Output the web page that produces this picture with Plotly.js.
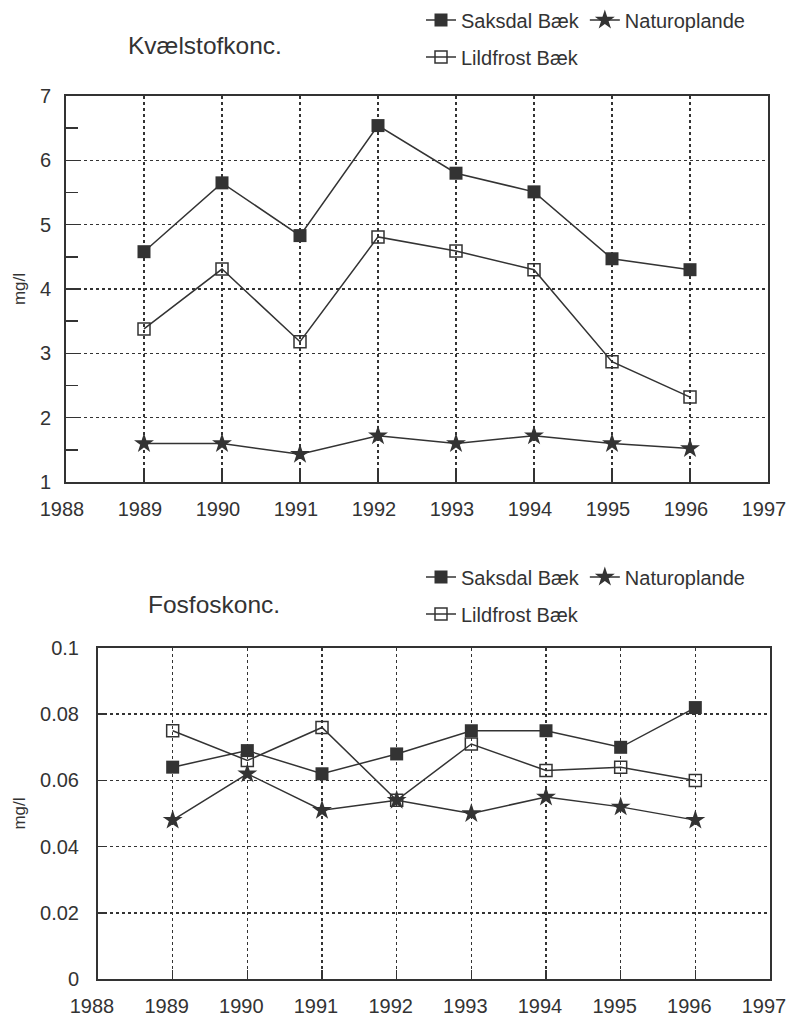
<!DOCTYPE html>
<html><head><meta charset="utf-8">
<script src="https://cdn.plot.ly/plotly-3.0.1.min.js"></script>
<style>body{margin:0;background:#fff}#chart{width:788px;height:1016px}</style>
</head><body><div id="chart"></div>
<script>
// ---- data ----
const years = [1989, 1990, 1991, 1992, 1993, 1994, 1995, 1996];
const xTickVals = [1988, 1989, 1990, 1991, 1992, 1993, 1994, 1995, 1996, 1997];
const nSaksdal = [4.58, 5.65, 4.83, 6.54, 5.80, 5.51, 4.47, 4.30];
const nLildfrost = [3.38, 4.31, 3.18, 4.81, 4.59, 4.30, 2.87, 2.32];
const nNatur = [1.60, 1.60, 1.43, 1.72, 1.60, 1.72, 1.60, 1.52];
const pSaksdal = [0.064, 0.069, 0.062, 0.068, 0.075, 0.075, 0.070, 0.082];
const pLildfrost = [0.075, 0.066, 0.076, 0.054, 0.071, 0.063, 0.064, 0.060];
const pNatur = [0.048, 0.062, 0.051, 0.054, 0.050, 0.055, 0.052, 0.048];
const seriesNames = ['Saksdal Bæk', 'Naturoplande', 'Lildfrost Bæk'];
const chartTitles = ['Kvælstofkonc.', 'Fosfoskonc.'];
const unitLabel = 'mg/l';

// ---- styles ----
const INK = '#333';
const W = 788, H = 1016;
const px = v => v / W, py = v => 1 - v / H;
const styles = [
  {symbol: 'square', size: 13, color: INK, line: {width: 0}},
  {symbol: 'star', size: 15, color: INK, line: {width: 0}},
  {symbol: 'square-open', size: 12, color: INK, line: {width: 1.5, color: INK}}
];

function chartTraces(xa, ya, values, legA, legB) {
  const out = [];
  values.forEach((vals, i) => {
    out.push({
      x: years, y: vals, xaxis: xa, yaxis: ya, mode: 'lines+markers',
      name: seriesNames[i], showlegend: false,
      line: {color: INK, width: 1.5}, marker: styles[i], hoverinfo: 'skip'
    });
  });
  values.forEach((vals, i) => {
    out.push({
      x: [null], y: [null], xaxis: xa, yaxis: ya, mode: 'lines+markers',
      name: seriesNames[i], showlegend: true, legend: i < 2 ? legA : legB,
      line: {color: INK, width: 1.5}, marker: styles[i]
    });
  });
  return out;
}

const traces = [
  ...chartTraces('x', 'y', [nSaksdal, nNatur, nLildfrost], 'legend', 'legend2'),
  ...chartTraces('x2', 'y2', [pSaksdal, pNatur, pLildfrost], 'legend3', 'legend4')
];

const common = {
  showgrid: true, griddash: 'dot', gridcolor: INK, gridwidth: 1.5,
  showline: true, mirror: true, linecolor: INK, linewidth: 2,
  ticks: 'inside', tickcolor: INK, tickwidth: 1.5,
  zeroline: false, fixedrange: true, ticklabeloverflow: 'allow',
  tickfont: {size: 20, color: INK}
};
const xCommon = Object.assign({}, common, {
  range: [1988, 1997], tickvals: xTickVals, ticklen: 11, ticklabelstandoff: 8
});

const legendBase = {
  orientation: 'h', xanchor: 'left', yanchor: 'middle',
  font: {size: 20, color: INK}, bgcolor: 'rgba(0,0,0,0)', borderwidth: 0,
  itemwidth: 30, itemclick: false, itemdoubleclick: false
};

const layout = {
  width: W, height: H,
  margin: {l: 0, r: 0, t: 0, b: 0},
  paper_bgcolor: '#fff', plot_bgcolor: '#fff',
  font: {family: 'Liberation Sans, Arial, sans-serif', color: INK},
  showlegend: true,
  xaxis: Object.assign({}, xCommon, {domain: [px(66), px(768)], anchor: 'y', ticklabelshift: -4}),
  yaxis: Object.assign({}, common, {
    domain: [py(482), py(96)], anchor: 'x', range: [1, 7], dtick: 1, ticklen: 12,
    minor: {dtick: 0.5, ticks: 'inside', ticklen: 12, tickcolor: INK, showgrid: false},
    ticklabelstandoff: 9,
    title: {text: unitLabel, font: {size: 17, color: INK}, standoff: 10}
  }),
  xaxis2: Object.assign({}, xCommon, {domain: [px(98), px(770)], anchor: 'y2', ticklen: 9, ticklabelshift: -6}),
  yaxis2: Object.assign({}, common, {
    domain: [py(979), py(648)], anchor: 'x2', range: [0, 0.1], dtick: 0.02, ticklen: 8,
    tickformat: '.2~f', ticklabelstandoff: 13,
    title: {text: unitLabel, font: {size: 17, color: INK}, standoff: 10}
  }),
  legend: Object.assign({}, legendBase, {x: px(421), y: py(20)}),
  legend2: Object.assign({}, legendBase, {x: px(421), y: py(57)}),
  legend3: Object.assign({}, legendBase, {x: px(421), y: py(577)}),
  legend4: Object.assign({}, legendBase, {x: px(421), y: py(614)}),
  annotations: [
    {text: chartTitles[0], xref: 'paper', yref: 'paper', x: px(126), y: py(45),
     xanchor: 'left', yanchor: 'middle', showarrow: false, font: {size: 24.5, color: INK}},
    {text: chartTitles[1], xref: 'paper', yref: 'paper', x: px(146), y: py(604),
     xanchor: 'left', yanchor: 'middle', showarrow: false, font: {size: 24.5, color: INK}}
  ]
};

Plotly.newPlot('chart', traces, layout, {displayModeBar: false, staticPlot: true});
</script>
</body></html>
